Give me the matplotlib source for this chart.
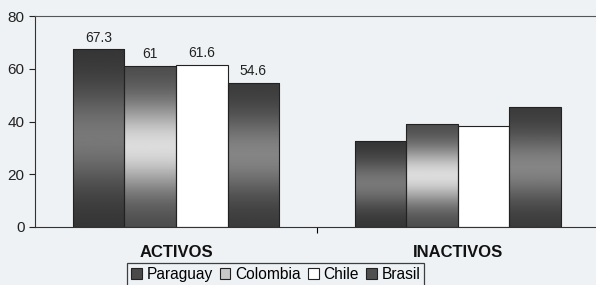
import numpy as np
import matplotlib
matplotlib.use('Agg')
import matplotlib.pyplot as plt
from matplotlib.patches import Patch

plt.rcParams['font.family'] = ['Liberation Sans', 'DejaVu Sans']

# Donnees
categorias = ['ACTIVOS', 'INACTIVOS']
paises = ['Paraguay', 'Colombia', 'Chile', 'Brasil']
activos = [67.3, 61, 61.6, 54.6]
inactivos = [32.7, 39, 38.4, 45.4]
etiquetas_activos = ['67.3', '61', '61.6', '54.6']

# (sombre, clair) pour le degrade de chaque pays
tons = {
    'Paraguay': (0.20, 0.47),
    'Colombia': (0.28, 0.86),
    'Chile': (1.0, 1.0),
    'Brasil': (0.22, 0.52),
}
legende_couleurs = ['#4a4a4a', '#c8c8c8', '#ffffff', '#505050']

fond = '#eef2f5'
fig = plt.figure(figsize=(5.96, 2.85), dpi=100, facecolor=fond)
ax = fig.add_axes([35 / 596, 1 - 227 / 285, 1 - 35 / 596, 211 / 285])
ax.set_facecolor(fond)

largeur = 0.183
x = np.arange(len(categorias))
valeurs = np.array([activos, inactivos])

t = np.linspace(0, 1, 200)
for i, pays in enumerate(paises):
    sombre, clair = tons[pays]
    profil = sombre + (clair - sombre) * np.exp(-((t - 0.5) / 0.28) ** 2)
    img = np.repeat(profil[:, None], 2, axis=1)
    pos = x - 1.5 * largeur + i * largeur
    barres = ax.bar(pos, valeurs[:, i], largeur, color='none',
                    edgecolor='#222222', linewidth=0.8, zorder=3)
    for b in barres:
        x0, y0 = b.get_x(), b.get_y()
        w, h = b.get_width(), b.get_height()
        im = ax.imshow(img, extent=[x0, x0 + w, y0, y0 + h], origin='lower',
                       cmap='gray', vmin=0, vmax=1, aspect='auto',
                       interpolation='bilinear', zorder=2)
        im.set_clip_path(b)
    # etiquettes seulement sur ACTIVOS
    ax.text(pos[0], activos[i] + 1.8, etiquetas_activos[i], ha='center',
            va='bottom', fontsize=10, color='#222222')

ax.set_xlim(-0.5, 1.49)
ax.set_ylim(0, 80)
ax.set_yticks([0, 20, 40, 60, 80])
ax.tick_params(axis='y', labelsize=11, length=4, direction='out',
               colors='#222222')
ax.set_xticks([0.5])
ax.set_xticklabels([''])
ax.tick_params(axis='x', length=4, direction='out')
ax.spines['right'].set_visible(False)
ax.spines['top'].set_color('#555555')
ax.spines['top'].set_linewidth(0.8)
ax.spines['left'].set_color('#333333')
ax.spines['bottom'].set_color('#333333')

for xi, cat in zip(x, categorias):
    ax.text(xi, -6.8, cat, ha='center', va='top', fontsize=12,
            fontweight='bold', color='#111111')

handles = [Patch(facecolor=c, edgecolor='#222222', linewidth=0.8)
           for c in legende_couleurs]
leg = fig.legend(handles, paises, loc='upper center', ncol=4,
                 bbox_to_anchor=(275.5 / 596, 1 - 263 / 285),
                 fontsize=11.2, frameon=True, fancybox=False,
                 handlelength=0.7, handleheight=0.7, handletextpad=0.3,
                 columnspacing=0.45, borderpad=0.25, borderaxespad=0)
leg.get_frame().set_edgecolor('#111111')
leg.get_frame().set_facecolor(fond)
leg.get_frame().set_linewidth(0.9)

fig.savefig('out.png', dpi=100, facecolor=fond)
